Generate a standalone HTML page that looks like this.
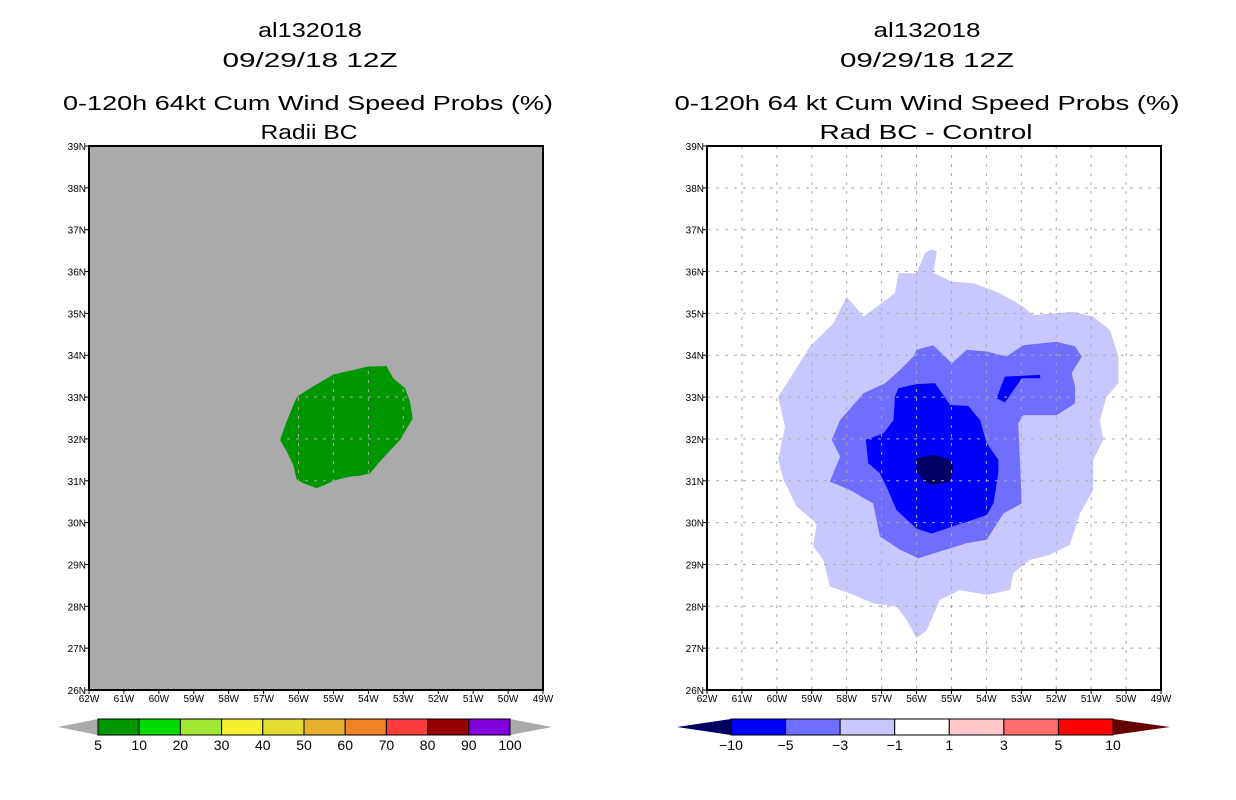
<!DOCTYPE html>
<html><head><meta charset="utf-8"><style>
html,body{margin:0;padding:0;background:#fff;}
svg{display:block;font-family:"Liberation Sans",sans-serif;}
</style></head><body>
<svg id="chart" width="1236" height="800" viewBox="0 0 1236 800">
<rect x="0" y="0" width="1236" height="800" fill="#fff"/>
</svg>
<script>
// ---- data ----
const lonTicks = [-62,-61,-60,-59,-58,-57,-56,-55,-54,-53,-52,-51,-50,-49];
const latTicks = [26,27,28,29,30,31,32,33,34,35,36,37,38,39];
const leftLevels = ["5","10","20","30","40","50","60","70","80","90","100"];
const leftColors = ["#009600","#00dc00","#a0e632","#f5f032","#e6dc32","#e6af2d","#f08228","#fa3c3c","#960000","#8200dc"];
const rightLevels = ["-10","-5","-3","-1","1","3","5","10"];
const rightColors = ["#0000ff","#6e6eff","#c8c8ff","#ffffff","#ffc8c8","#ff6e6e","#ff0000"];
// left panel: 5-10% probability region (lon, lat)
const greenLon = [-54.00,-53.48,-53.29,-52.95,-52.81,-52.73,-53.09,-53.67,-53.95,-54.24,-54.53,-54.91,-55.48,-55.86,-56.05,-56.15,-56.34,-56.53,-56.34,-56.05,-55.67,-55.00];
const greenLat = [33.73,33.74,33.45,33.21,32.89,32.49,31.98,31.46,31.18,31.12,31.10,31.02,30.82,30.94,31.02,31.38,31.70,31.98,32.42,33.01,33.21,33.54];
// right panel: difference contours
const c1Lon = [-55.57,-55.42,-55.52,-54.99,-54.37,-53.61,-52.94,-52.66,-51.51,-50.94,-50.46,-50.22,-50.22,-50.56,-50.75,-50.65,-50.94,-50.94,-51.32,-51.61,-52.18,-52.75,-53.23,-53.32,-53.99,-54.76,-55.33,-55.71,-56.00,-56.28,-56.57,-57.24,-57.91,-58.48,-58.67,-58.96,-58.86,-59.43,-59.81,-59.96,-59.77,-59.96,-59.53,-59.05,-58.38,-58.00,-57.52,-57.14,-56.62,-56.52,-56.00,-55.76];
const c1Lat = [36.53,36.48,35.97,35.76,35.72,35.48,35.16,34.96,35.04,34.92,34.60,33.97,33.33,33.01,32.45,31.98,31.50,30.78,30.22,29.47,29.23,29.11,28.79,28.39,28.27,28.39,28.15,27.43,27.24,27.67,27.99,28.07,28.31,28.47,29.11,29.43,29.98,30.38,31.02,31.50,32.29,33.01,33.57,34.21,34.76,35.40,34.92,35.16,35.48,35.96,35.96,36.44];
const c3Lon = [-56.00,-55.52,-54.99,-54.56,-53.99,-53.42,-52.94,-51.99,-51.46,-51.27,-51.56,-51.46,-51.46,-51.99,-52.94,-53.09,-53.04,-52.99,-53.51,-53.99,-54.56,-55.95,-56.47,-57.05,-57.24,-57.91,-58.48,-58.19,-58.43,-58.19,-57.52,-56.90,-56.47,-56.09];
const c3Lat = [34.13,34.24,33.81,34.13,34.09,33.97,34.24,34.32,34.21,33.97,33.57,33.25,32.85,32.57,32.57,32.37,31.50,30.46,30.22,29.59,29.51,29.15,29.35,29.67,30.46,30.78,30.98,31.58,31.98,32.45,33.09,33.33,33.65,33.97];
const c5Lon = [-56.52,-56.00,-55.47,-55.04,-54.52,-54.18,-53.99,-53.66,-53.66,-53.80,-53.99,-54.99,-55.57,-56.00,-56.57,-56.86,-57.05,-57.38,-57.45,-56.95,-56.66,-56.62];
const c5Lat = [33.21,33.31,33.33,32.81,32.79,32.45,31.90,31.50,31.18,30.46,30.18,29.90,29.74,29.86,30.30,30.86,31.18,31.42,31.98,32.13,32.45,33.01];
const c5bLon = [-53.47,-52.46,-52.46,-52.99,-53.47,-53.71];
const c5bLat = [33.49,33.53,33.45,33.45,32.87,32.97];
const c10Lon = [-56.00,-55.52,-54.99,-54.95,-55.04,-55.52,-55.81,-56.00];
const c10Lat = [31.54,31.62,31.50,31.26,30.98,30.90,30.98,31.26];

// ---- drawing ----
const NS='http://www.w3.org/2000/svg';
const svg=document.getElementById('chart');
function mk(tag,attrs,parent){const e=document.createElementNS(NS,tag);for(const k in attrs)e.setAttribute(k,attrs[k]);(parent||svg).appendChild(e);return e;}
const H=544, W=454, TOP=146;
function xS(x0){return lon=>x0+(lon+62)/13*W;}
function yS(){return lat=>TOP+(39-lat)/13*H;}
const ys=yS();
function poly(xs,lons,lats,fill,name){
  const pts=lons.map((l,i)=>xs(l).toFixed(1)+','+ys(lats[i]).toFixed(1)).join(' ');
  const p=mk('polygon',{points:pts,fill:fill});
  
  
  return p;
}
function text(x,y,s,size,anchor,len,name){
  const t=mk('text',{x:x,y:y,'font-size':size,'text-anchor':anchor||'middle',fill:'#000'});
  if(len){t.setAttribute('textLength',len);t.setAttribute('lengthAdjust','spacingAndGlyphs');}
  t.textContent=s;
  
  
  return t;
}
function panel(x0,bg,gridColor,prefix){
  const xs=xS(x0);
  const bgR=mk('rect',{x:x0,y:TOP,width:W,height:H,fill:bg});
  
  
  return xs;
}
function gridAndAxes(x0,gridColor,prefix){
  const xs=xS(x0);
  lonTicks.forEach((l,i)=>{
    if(i>0&&i<lonTicks.length-1){const g=mk('line',{x1:xs(l),x2:xs(l),y1:TOP,y2:TOP+H,stroke:gridColor,'stroke-width':1,'stroke-dasharray':'3,6'});
      }
    const tk=mk('line',{x1:xs(l),x2:xs(l),y1:TOP+H,y2:TOP+H+4,stroke:'#000'});
    text(xs(l),TOP+H+12,Math.abs(l)+'W',10,'middle',null,prefix+'-lon-label');
  });
  latTicks.forEach((l,i)=>{
    if(i>0&&i<latTicks.length-1){const g=mk('line',{x1:x0,x2:x0+W,y1:ys(l),y2:ys(l),stroke:gridColor,'stroke-width':1,'stroke-dasharray':'3,6'});
      }
    mk('line',{x1:x0-4,x2:x0,y1:ys(l),y2:ys(l),stroke:'#000'});
    text(x0-3,ys(l)+4,l+'N',10,'end',null,prefix+'-lat-label');
  });
  const fr=mk('rect',{x:x0,y:TOP,width:W,height:H,fill:'none',stroke:'#000','stroke-width':2});
  
}
function colorbar(x1,x2,triL,triR,colors,levels,leftTri,rightTri,prefix){
  const y=719,h=16,n=colors.length,w=(x2-x1)/n;
  const tl=mk('polygon',{points:`${triL},${y+h/2} ${x1},${y} ${x1},${y+h}`,fill:leftTri});
  
  const tr=mk('polygon',{points:`${triR},${y+h/2} ${x2},${y} ${x2},${y+h}`,fill:rightTri});
  
  colors.forEach((c,i)=>{const r=mk('rect',{x:x1+i*w,y:y,width:w,height:h,fill:c,stroke:'#000','stroke-width':1});
    });
  levels.forEach((s,i)=>text(x1+i*w,y+h+15,s.replace('-','\u2212'),14,'middle',null,prefix+'-colorbar-label'));
}
// left panel
const xl=panel(89,'#aaaaaa','#aaaaaa','left');
poly(xl,greenLon,greenLat,'#009600','left-prob-5-10-region');
gridAndAxes(89,'#aaaaaa','left');
colorbar(98,510,58,552,leftColors,leftLevels,'#aaaaaa','#aaaaaa','left');
// right panel
const xr=panel(707,'#ffffff','#aaaaaa','right');
poly(xr,c1Lon,c1Lat,'#c8c8ff','right-diff-minus1-region');
poly(xr,c3Lon,c3Lat,'#6e6eff','right-diff-minus3-region');
poly(xr,c5Lon,c5Lat,'#0000ff','right-diff-minus5-region');
poly(xr,c5bLon,c5bLat,'#0000ff','right-diff-minus5-sliver');
poly(xr,c10Lon,c10Lat,'#000064','right-diff-minus10-region');
gridAndAxes(707,'#aaaaaa','right');
colorbar(731,1113,677,1170,rightColors,rightLevels,'#000064','#640000','right');
// titles
text(310,37,'al132018',20,'middle',104,'left-storm-id');
text(310,67,'09/29/18 12Z',20,'middle',175,'left-date');
text(308,110,'0-120h 64kt Cum Wind Speed Probs (%)',20,'middle',490,'left-title');
text(309,139,'Radii BC',20,'middle',97,'left-subtitle');
text(927,37,'al132018',20,'middle',107,'right-storm-id');
text(927,67,'09/29/18 12Z',20,'middle',174,'right-date');
text(927,110,'0-120h 64 kt Cum Wind Speed Probs (%)',20,'middle',505,'right-title');
text(926,139,'Rad BC - Control',20,'middle',213,'right-subtitle');
</script>
</body></html>
